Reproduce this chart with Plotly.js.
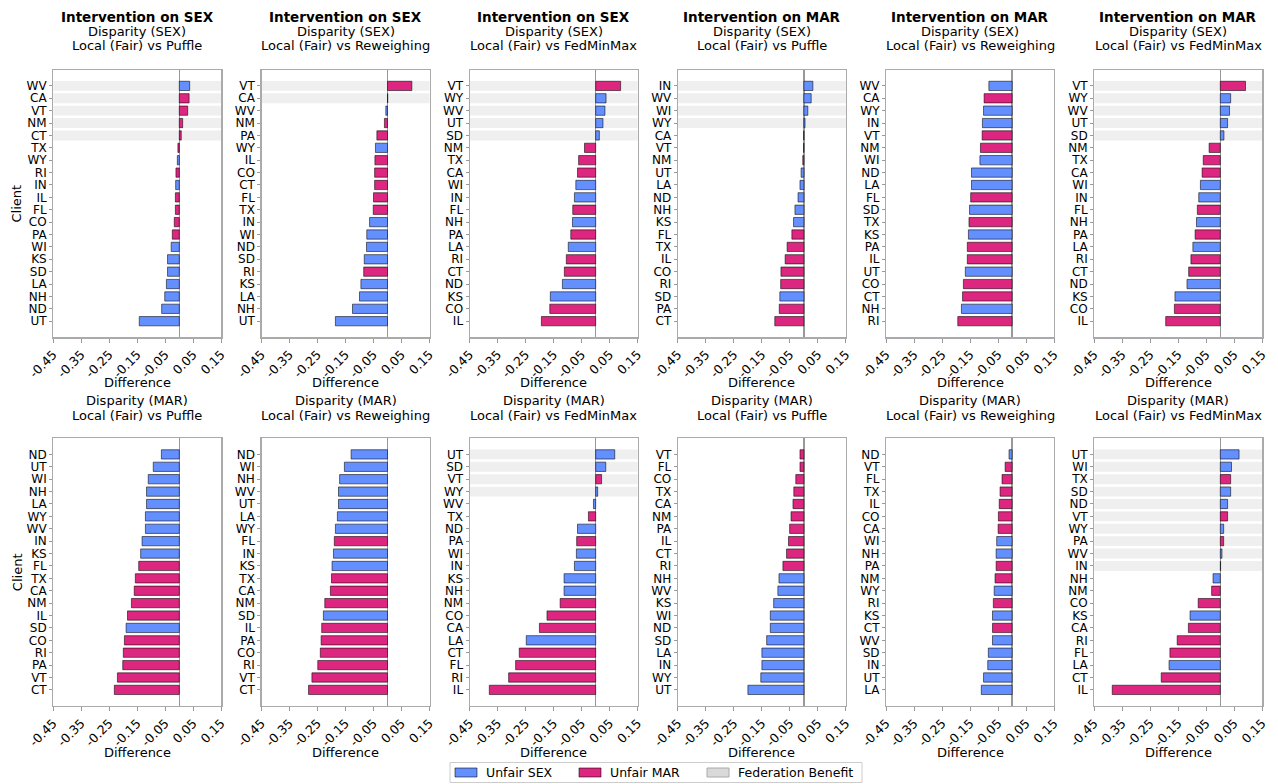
<!DOCTYPE html>
<html><head><meta charset="utf-8">
<script src="https://cdn.plot.ly/plotly-3.0.1.min.js"></script>
<style>body{margin:0;background:#fff}#chart{width:1278px;height:784px}</style>
</head><body><div id="chart"></div>
<script>
// Clients whose unfairness is on SEX (others: MAR)
const sexClients = ["WV","WY","IN","WI","KS","SD","LA","NH","ND","UT"];
const interventions = ["Intervention on SEX","Intervention on SEX","Intervention on SEX","Intervention on MAR","Intervention on MAR","Intervention on MAR"];
const methods = ["Puffle","Reweighing","FedMinMax"];
const legendNames = ["Unfair SEX","Unfair MAR","Federation Benefit"];
const xTicks = [-0.45,-0.35,-0.25,-0.15,-0.05,0.05,0.15];

// Row 1: Disparity (SEX)
const p1Clients = ["WV","CA","VT","NM","CT","TX","WY","RI","IN","IL","FL","CO","PA","WI","KS","SD","LA","NH","ND","UT"];
const p1Values  = [0.037,0.035,0.030,0.012,0.007,-0.005,-0.007,-0.012,-0.013,-0.014,-0.014,-0.018,-0.025,-0.029,-0.042,-0.042,-0.046,-0.052,-0.063,-0.143];
const p2Clients = ["VT","CA","WV","NM","PA","WY","IL","CO","CT","FL","TX","IN","WI","ND","SD","RI","KS","LA","NH","UT"];
const p2Values  = [0.087,0.001,-0.006,-0.011,-0.038,-0.043,-0.045,-0.046,-0.046,-0.050,-0.051,-0.064,-0.074,-0.075,-0.083,-0.085,-0.095,-0.100,-0.125,-0.186];
const p3Clients = ["VT","WY","WV","UT","SD","NM","TX","CA","WI","IN","FL","NH","PA","LA","RI","CT","ND","KS","CO","IL"];
const p3Values  = [0.089,0.037,0.033,0.026,0.013,-0.040,-0.061,-0.065,-0.071,-0.076,-0.082,-0.083,-0.089,-0.098,-0.105,-0.112,-0.119,-0.162,-0.164,-0.194];
const p4Clients = ["IN","WV","WI","WY","CA","VT","NM","UT","LA","ND","NH","KS","FL","TX","IL","CO","RI","SD","PA","CT"];
const p4Values  = [0.032,0.026,0.014,0.004,-0.0005,-0.001,-0.004,-0.010,-0.014,-0.021,-0.032,-0.037,-0.043,-0.060,-0.067,-0.082,-0.083,-0.086,-0.088,-0.104];
const p5Clients = ["WV","CA","WY","IN","VT","NM","WI","ND","LA","FL","SD","TX","KS","PA","IL","UT","CO","CT","NH","RI"];
const p5Values  = [-0.083,-0.100,-0.102,-0.106,-0.107,-0.113,-0.115,-0.145,-0.145,-0.148,-0.152,-0.154,-0.156,-0.160,-0.160,-0.167,-0.174,-0.177,-0.181,-0.194];
const p6Clients = ["VT","WY","WV","UT","SD","NM","TX","CA","WI","IN","FL","NH","PA","LA","RI","CT","ND","KS","CO","IL"];
const p6Values  = [0.090,0.037,0.033,0.026,0.013,-0.040,-0.061,-0.065,-0.071,-0.077,-0.082,-0.085,-0.090,-0.098,-0.105,-0.113,-0.119,-0.162,-0.164,-0.195];

// Row 2: Disparity (MAR)
const p7Clients = ["ND","UT","WI","NH","LA","WY","WV","IN","KS","FL","TX","CA","NM","IL","SD","CO","RI","PA","VT","CT"];
const p7Values  = [-0.064,-0.093,-0.111,-0.117,-0.117,-0.121,-0.121,-0.133,-0.138,-0.145,-0.157,-0.161,-0.171,-0.185,-0.190,-0.196,-0.200,-0.202,-0.221,-0.232];
const p8Clients = ["ND","WI","NH","WV","UT","LA","WY","FL","IN","KS","TX","CA","NM","SD","IL","PA","CO","RI","VT","CT"];
const p8Values  = [-0.130,-0.154,-0.171,-0.175,-0.175,-0.179,-0.186,-0.190,-0.193,-0.198,-0.200,-0.204,-0.224,-0.229,-0.235,-0.237,-0.240,-0.249,-0.270,-0.282];
const p9Clients = ["UT","SD","VT","WY","WV","TX","ND","PA","WI","IN","KS","NH","NM","CO","CA","LA","CT","FL","RI","IL"];
const p9Values  = [0.068,0.036,0.021,0.007,-0.008,-0.026,-0.065,-0.068,-0.069,-0.076,-0.113,-0.113,-0.127,-0.174,-0.201,-0.248,-0.273,-0.286,-0.311,-0.380];
const p10Clients = ["VT","FL","CO","TX","CA","NM","PA","IL","CT","RI","NH","WV","KS","WI","ND","SD","LA","IN","WY","UT"];
const p10Values  = [-0.014,-0.014,-0.029,-0.036,-0.039,-0.046,-0.051,-0.055,-0.062,-0.075,-0.089,-0.093,-0.108,-0.120,-0.120,-0.133,-0.150,-0.150,-0.154,-0.200];
const p11Clients = ["ND","VT","FL","TX","IL","CO","CA","WI","NH","PA","NM","WY","RI","KS","CT","WV","SD","IN","UT","LA"];
const p11Values  = [-0.011,-0.025,-0.036,-0.043,-0.046,-0.049,-0.050,-0.055,-0.057,-0.057,-0.061,-0.064,-0.067,-0.070,-0.070,-0.070,-0.085,-0.087,-0.102,-0.110];
const p12Clients = ["UT","WI","TX","SD","ND","VT","WY","PA","WV","IN","NH","NM","CO","KS","CA","RI","FL","LA","CT","IL"];
const p12Values  = [0.067,0.040,0.037,0.037,0.026,0.026,0.012,0.012,0.006,0.001,-0.026,-0.031,-0.079,-0.108,-0.114,-0.154,-0.180,-0.183,-0.211,-0.386];

const panelClients = [p1Clients,p2Clients,p3Clients,p4Clients,p5Clients,p6Clients,p7Clients,p8Clients,p9Clients,p10Clients,p11Clients,p12Clients];
const panelValues  = [p1Values,p2Values,p3Values,p4Values,p5Values,p6Values,p7Values,p8Values,p9Values,p10Values,p11Values,p12Values];

const W = 1278, H = 784;
const BLUE = "#648FFF", MAG = "#DC267F", BAND = "#efefef";
const FONT = "DejaVu Sans";
const colLeft = [53.3, 261.5, 469.7, 677.9, 886.1, 1094.3];
const plotW = 168;
const rowTop = [69.8, 438.3], rowBot = [337.3, 706];

const traces = [], shapes = [], annotations = [];
const layout = {
  width: W, height: H, margin: {l:0, r:0, t:0, b:0},
  paper_bgcolor: "#fff", plot_bgcolor: "#fff",
  font: {family: FONT, size: 13, color: "#000"},
  bargap: 0.25, showlegend: false
};
const py = px => 1 - px / H;
const pxX = px => px / W;

for (let k = 0; k < 12; k++) {
  const row = k < 6 ? 0 : 1, col = k % 6;
  const ax = k === 0 ? "" : String(k + 1);
  const clients = panelClients[k], vals = panelValues[k];
  const colors = clients.map(c => sexClients.includes(c) ? BLUE : MAG);
  traces.push({
    type: "bar", orientation: "h", x: vals, y: clients, xaxis: "x" + ax, yaxis: "y" + ax,
    width: 0.75, marker: {color: colors, line: {color: "rgba(0,0,0,0.55)", width: 1}},
    showlegend: false, hoverinfo: "x+y"
  });
  layout["xaxis" + ax] = {
    domain: [pxX(colLeft[col]), pxX(colLeft[col] + plotW)], anchor: "y" + ax,
    range: [-0.45, 0.15], tickmode: "array", tickvals: xTicks, ticktext: xTicks.map(v => v.toFixed(2)),
    tickangle: -45, tickfont: {size: 12.5, family: FONT}, ticks: "outside", ticklen: 4, tickcolor: "#999",
    showgrid: false, zeroline: true, zerolinecolor: "#999", zerolinewidth: 1.2,
    showline: true, mirror: true, linecolor: "#aaa", linewidth: 1.2, fixedrange: true
  };
  layout["yaxis" + ax] = {
    domain: [py(rowBot[row]), py(rowTop[row])], anchor: "x" + ax,
    type: "category", categoryorder: "array", categoryarray: clients,
    range: [clients.length - 1 + 1.3, -1.3],
    tickmode: "array", tickvals: clients, ticktext: clients,
    tickfont: {size: 12, family: FONT}, ticks: "outside", ticklen: 3, tickcolor: "#999",
    showgrid: false, zeroline: false, showline: true, mirror: true, linecolor: "#aaa", linewidth: 1.2, fixedrange: true
  };
  // Federation benefit bands
  vals.forEach((v, i) => {
    if (v > 0) shapes.push({type: "rect", xref: "x" + ax + " domain", yref: "y" + ax, x0: 0, x1: 1,
      y0: i - 0.4, y1: i + 0.4, fillcolor: BAND, line: {width: 0}, layer: "below"});
  });
  const cx = pxX(colLeft[col] + plotW / 2);
  const ann = (text, y, size) => annotations.push({text, x: cx, y: py(y), xref: "paper", yref: "paper", showarrow: false, xanchor: "center", yanchor: "middle", font: {size, family: FONT}});
  if (row === 0) {
    ann("<b>" + interventions[col] + "</b>", 17, 13.5);
    ann("Disparity (SEX)", 31.5, 13);
    ann("Local (Fair) vs " + methods[col % 3], 46, 13);
    ann("Difference", 383, 13);
  } else {
    ann("Disparity (MAR)", 400, 13);
    ann("Local (Fair) vs " + methods[col % 3], 415, 13);
    ann("Difference", 752, 13);
  }
  if (col === 0) {
    annotations.push({text: "Client", x: pxX(17), y: py((rowTop[row] + rowBot[row]) / 2), xref: "paper", yref: "paper", showarrow: false, textangle: -90, xanchor: "center", yanchor: "middle", font: {size: 13, family: FONT}});
  }
}

// Figure legend (bottom centre): frame, swatches and labels
const legBox = [450, 862, 762.5, 782.5];
const legSwatchX = [455, 579, 707];
const legColors = [[BLUE, "rgba(0,0,0,0.55)"], [MAG, "rgba(0,0,0,0.55)"], ["#d9d9d9", "#aaaaaa"]];
shapes.push({type: "rect", xref: "paper", yref: "paper", x0: pxX(legBox[0]), x1: pxX(legBox[1]), y0: py(legBox[3]), y1: py(legBox[2]),
  fillcolor: "#fff", line: {color: "#cccccc", width: 1}, layer: "above"});
legendNames.forEach((name, i) => {
  shapes.push({type: "rect", xref: "paper", yref: "paper", x0: pxX(legSwatchX[i]), x1: pxX(legSwatchX[i] + 22),
    y0: py(777), y1: py(768), fillcolor: legColors[i][0], line: {color: legColors[i][1], width: 1}, layer: "above"});
  annotations.push({text: name, x: pxX(legSwatchX[i] + 29), y: py(772.5), xref: "paper", yref: "paper", showarrow: false,
    xanchor: "left", yanchor: "middle", font: {size: 12.5, family: FONT}});
});

layout.shapes = shapes;
layout.annotations = annotations;
Plotly.newPlot("chart", traces, layout, {displayModeBar: false, staticPlot: true});
</script>
</body></html>
